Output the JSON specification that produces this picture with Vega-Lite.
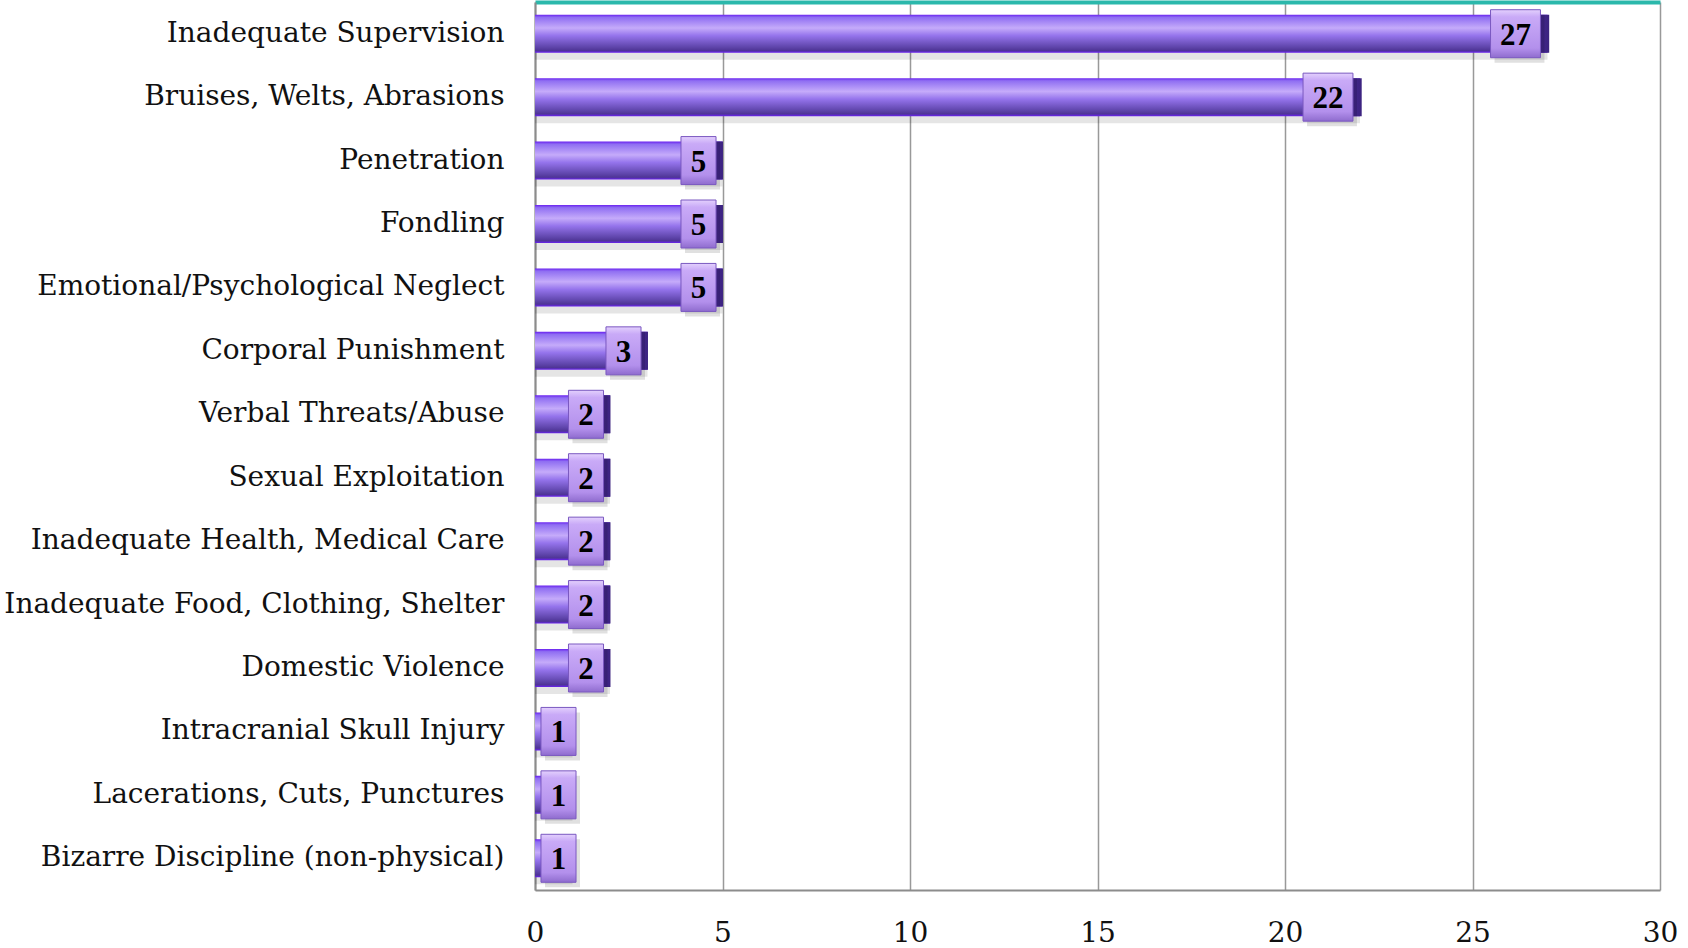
{
  "$schema": "https://vega.github.io/schema/vega-lite/v6.json",
  "autosize": {"type": "none"},
  "width": 1125,
  "height": 888,
  "padding": {"left": 535, "top": 2, "right": 28, "bottom": 58},
  "background": "white",
  "config": {"view": {"stroke": null}},
  "data": {"values": [
    {"category": "Inadequate Supervision", "count": 27},
    {"category": "Bruises, Welts, Abrasions", "count": 22},
    {"category": "Penetration", "count": 5},
    {"category": "Fondling", "count": 5},
    {"category": "Emotional/Psychological Neglect", "count": 5},
    {"category": "Corporal Punishment", "count": 3},
    {"category": "Verbal Threats/Abuse", "count": 2},
    {"category": "Sexual Exploitation", "count": 2},
    {"category": "Inadequate Health, Medical Care", "count": 2},
    {"category": "Inadequate Food, Clothing, Shelter", "count": 2},
    {"category": "Domestic Violence", "count": 2},
    {"category": "Intracranial Skull Injury", "count": 1},
    {"category": "Lacerations, Cuts, Punctures", "count": 1},
    {"category": "Bizarre Discipline (non-physical)", "count": 1}
  ]},
  "encoding": {
    "y": {"field": "category", "type": "nominal", "sort": null,
      "axis": {"title": null, "ticks": false, "domainColor": "#8c8c8c", "domainWidth": 2,
        "labelFont": "DejaVu Serif", "labelFontSize": 28, "labelColor": "#111", "labelPadding": 31, "labelLimit": 700}}
  },
  "layer": [
    {
      "mark": {"type": "bar", "size": 38, "yOffset": 7, "color": "#000", "opacity": 0.1},
      "encoding": {
        "x": {"field": "count", "type": "quantitative",
          "scale": {"domain": [0, 30], "nice": false, "zero": true},
          "axis": {"title": null, "values": [0, 5, 10, 15, 20, 25, 30], "ticks": false, "labelFlush": false,
            "domainColor": "#8c8c8c", "domainWidth": 2, "grid": true, "gridColor": "#999", "gridWidth": 1.5,
            "labelFont": "DejaVu Serif", "labelFontSize": 28, "labelColor": "#111", "labelPadding": 29}}
      }
    },
    {
      "mark": {"type": "bar", "size": 38,
        "color": {"gradient": "linear", "x1": 0, "y1": 0, "x2": 0, "y2": 1,
          "stops": [
            {"offset": 0, "color": "#6a22f0"},
            {"offset": 0.07, "color": "#8f6ef2"},
            {"offset": 0.35, "color": "#c5abfa"},
            {"offset": 0.55, "color": "#9574ec"},
            {"offset": 0.85, "color": "#5f45ab"},
            {"offset": 0.94, "color": "#4f3596"},
            {"offset": 1, "color": "#6a22f0"}]}},
      "encoding": {
        "x": {"field": "count", "type": "quantitative", "axis": {"title": null, "orient": "top", "labels": false, "ticks": false, "grid": false, "domainColor": "#2bb8ab", "domainWidth": 4}}
      }
    },
    {
      "transform": [{"filter": "datum.count >= 10"}],
      "encoding": {"x": {"field": "count", "type": "quantitative", "axis": null}},
      "layer": [
        {"mark": {"type": "point", "filled": true, "size": 1444, "opacity": 1, "xOffset": -23, "shape": "M-1.3,-1h2.6v2h-2.6Z",
          "color": {"gradient": "linear", "x1": 0, "y1": 0, "x2": 1, "y2": 0,
            "stops": [{"offset": 0, "color": "#5a35b5"}, {"offset": 1, "color": "#3c2380"}]}}},
        {"mark": {"type": "point", "filled": true, "size": 2304, "opacity": 0.12, "color": "#000", "xOffset": -28, "yOffset": 5, "shape": "M-1.04,-1h2.08v2h-2.08Z"}},
        {"mark": {"type": "point", "filled": true, "size": 2304, "opacity": 1, "stroke": "#7a58c0", "strokeWidth": 1, "xOffset": -32, "shape": "M-1.04,-1h2.08v2h-2.08Z",
          "fill": {"gradient": "linear", "x1": 0, "y1": 0, "x2": 0, "y2": 1,
            "stops": [{"offset": 0, "color": "#e3d0fd"}, {"offset": 0.15, "color": "#c9aaf7"}, {"offset": 0.8, "color": "#b390ec"}, {"offset": 1, "color": "#8f6cce"}]}}},
        {"mark": {"type": "text", "font": "Liberation Serif", "fontWeight": "bold", "fontSize": 31, "color": "#000", "baseline": "middle", "dy": 2, "xOffset": -32},
          "encoding": {"text": {"field": "count", "type": "quantitative"}}}
      ]
    },
    {
      "transform": [{"filter": "datum.count >= 2 && datum.count < 10"}],
      "encoding": {"x": {"field": "count", "type": "quantitative", "axis": null}},
      "layer": [
        {"mark": {"type": "point", "filled": true, "size": 1444, "opacity": 1, "xOffset": -17, "shape": "M-0.92,-1h1.84v2h-1.84Z",
          "color": {"gradient": "linear", "x1": 0, "y1": 0, "x2": 1, "y2": 0,
            "stops": [{"offset": 0, "color": "#5a35b5"}, {"offset": 1, "color": "#3c2380"}]}}},
        {"mark": {"type": "point", "filled": true, "size": 2304, "opacity": 0.12, "color": "#000", "xOffset": -20, "yOffset": 5, "shape": "M-0.73,-1h1.46v2h-1.46Z"}},
        {"mark": {"type": "point", "filled": true, "size": 2304, "opacity": 1, "stroke": "#7a58c0", "strokeWidth": 1, "xOffset": -24, "shape": "M-0.73,-1h1.46v2h-1.46Z",
          "fill": {"gradient": "linear", "x1": 0, "y1": 0, "x2": 0, "y2": 1,
            "stops": [{"offset": 0, "color": "#e3d0fd"}, {"offset": 0.15, "color": "#c9aaf7"}, {"offset": 0.8, "color": "#b390ec"}, {"offset": 1, "color": "#8f6cce"}]}}},
        {"mark": {"type": "text", "font": "Liberation Serif", "fontWeight": "bold", "fontSize": 31, "color": "#000", "baseline": "middle", "dy": 2, "xOffset": -24},
          "encoding": {"text": {"field": "count", "type": "quantitative"}}}
      ]
    },
    {
      "transform": [{"filter": "datum.count < 2"}],
      "encoding": {"x": {"field": "count", "type": "quantitative", "axis": null}},
      "layer": [
        {"mark": {"type": "point", "filled": true, "size": 2304, "opacity": 0.12, "color": "#000", "xOffset": -10, "yOffset": 5, "shape": "M-0.73,-1h1.46v2h-1.46Z"}},
        {"mark": {"type": "point", "filled": true, "size": 2304, "opacity": 1, "stroke": "#7a58c0", "strokeWidth": 1, "xOffset": -14, "shape": "M-0.73,-1h1.46v2h-1.46Z",
          "fill": {"gradient": "linear", "x1": 0, "y1": 0, "x2": 0, "y2": 1,
            "stops": [{"offset": 0, "color": "#e3d0fd"}, {"offset": 0.15, "color": "#c9aaf7"}, {"offset": 0.8, "color": "#b390ec"}, {"offset": 1, "color": "#8f6cce"}]}}},
        {"mark": {"type": "text", "font": "Liberation Serif", "fontWeight": "bold", "fontSize": 31, "color": "#000", "baseline": "middle", "dy": 2, "xOffset": -14},
          "encoding": {"text": {"field": "count", "type": "quantitative"}}}
      ]
    }
  ],
  "resolve": {"axis": {"x": "independent"}}
}
